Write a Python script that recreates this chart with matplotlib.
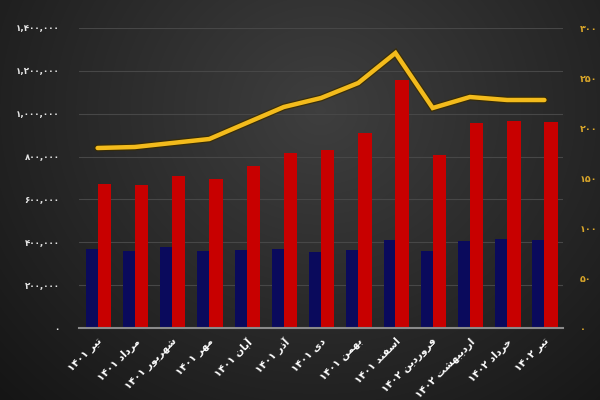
import numpy as np
import matplotlib
matplotlib.use("Agg")
import matplotlib.pyplot as plt
import matplotlib.patheffects as pe

months = ["تیر", "مرداد", "شهریور", "مهر", "آبان", "آذر", "دی", "بهمن",
          "اسفند", "فروردین", "اردیبهشت", "خرداد", "تیر"]
years = ["1401"] * 9 + ["1402"] * 4

blue_vals = [367000, 361000, 377000, 361000, 363000, 367000, 355000, 363000,
             412000, 360000, 406000, 415000, 412000]
red_vals = [673000, 667000, 710000, 695000, 758000, 819000, 831000, 910000,
            1157000, 807000, 955000, 967000, 960000]
line_vals = [180, 181, 185, 189, 205, 221, 230, 245, 275, 220, 231, 228, 228]

left_ticks = [0, 200000, 400000, 600000, 800000, 1000000, 1200000, 1400000]
right_ticks = [0, 50, 100, 150, 200, 250, 300]

FA_DIGITS = str.maketrans("0123456789", "۰۱۲۳۴۵۶۷۸۹")

# presentation forms: isolated, final, initial, medial (None = non-joining left)
FORMS = {
    "ا": ("\uFE8D", "\uFE8E", None, None),
    "آ": ("\uFE81", "\uFE82", None, None),
    "ب": ("\uFE8F", "\uFE90", "\uFE91", "\uFE92"),
    "ت": ("\uFE95", "\uFE96", "\uFE97", "\uFE98"),
    "خ": ("\uFEA5", "\uFEA6", "\uFEA7", "\uFEA8"),
    "د": ("\uFEA9", "\uFEAA", None, None),
    "ذ": ("\uFEAB", "\uFEAC", None, None),
    "ر": ("\uFEAD", "\uFEAE", None, None),
    "س": ("\uFEB1", "\uFEB2", "\uFEB3", "\uFEB4"),
    "ش": ("\uFEB5", "\uFEB6", "\uFEB7", "\uFEB8"),
    "ف": ("\uFED1", "\uFED2", "\uFED3", "\uFED4"),
    "م": ("\uFEE1", "\uFEE2", "\uFEE3", "\uFEE4"),
    "ن": ("\uFEE5", "\uFEE6", "\uFEE7", "\uFEE8"),
    "ه": ("\uFEE9", "\uFEEA", "\uFEEB", "\uFEEC"),
    "و": ("\uFEED", "\uFEEE", None, None),
    "ی": ("\uFBFC", "\uFBFD", "\uFBFE", "\uFBFF"),
}


def shape(word):
    out = []
    n = len(word)
    for i, ch in enumerate(word):
        f = FORMS.get(ch)
        if f is None:
            out.append(ch)
            continue
        prev = FORMS.get(word[i - 1]) if i > 0 else None
        join_prev = prev is not None and prev[2] is not None
        nxt = FORMS.get(word[i + 1]) if i < n - 1 else None
        join_next = nxt is not None and f[2] is not None
        if join_prev and join_next:
            out.append(f[3])
        elif join_prev:
            out.append(f[1])
        elif join_next:
            out.append(f[2])
        else:
            out.append(f[0])
    return "".join(reversed(out))


labels = [y.translate(FA_DIGITS) + " " + shape(m) for m, y in zip(months, years)]

fig = plt.figure(figsize=(6, 4), dpi=100)
# background gradient
bg = fig.add_axes([0, 0, 1, 1], zorder=-10)
yy, xx = np.mgrid[0:400, 0:600]
d = np.sqrt(((xx - 320) / 360.0) ** 2 + ((yy - 110) / 330.0) ** 2)
val = np.clip(0.245 - 0.13 * d, 0.085, 0.26)
bg.imshow(np.dstack([val, val, val]), aspect="auto", extent=[0, 1, 0, 1])
bg.axis("off")

ax = fig.add_axes([79 / 600, 72 / 400, 484 / 600, 300 / 400])
ax.patch.set_alpha(0)
x = np.arange(len(months))
ax.bar(x - 0.16, blue_vals, 0.32, color="#0a0a5c", zorder=2)
ax.bar(x + 0.18, red_vals, 0.36, color="#c80000", zorder=2)
ax.set_xlim(-0.5, len(months) - 0.5)
ax.set_ylim(0, 1400000)
ax.set_yticks(left_ticks)
ax.set_yticklabels([f"{v:,}".translate(FA_DIGITS) for v in left_ticks],
                   color="#e6e6e6", fontsize=6.3, fontweight="bold")
ax.tick_params(axis="y", length=0, pad=14)
ax.set_xticks(x)
ax.set_xticklabels(labels, rotation=45, ha="right", rotation_mode="anchor",
                   color="white", fontsize=7.4, fontweight="bold")
ax.tick_params(axis="x", length=0, pad=6)
ax.grid(axis="y", color="#474747", linewidth=0.8, zorder=0)
for s in ["top", "right", "left"]:
    ax.spines[s].set_visible(False)
ax.spines["bottom"].set_color("#8a8a8a")
ax.spines["bottom"].set_linewidth(1.5)

ax2 = ax.twinx()
ax2.patch.set_alpha(0)
ax2.plot(x, line_vals, color="#f3bb1c", linewidth=3.2, zorder=5,
         solid_capstyle="round", solid_joinstyle="miter",
         path_effects=[pe.Stroke(linewidth=5, foreground="#3a2c00", alpha=0.8),
                       pe.Normal()])
ax2.set_ylim(0, 300)
ax2.set_yticks(right_ticks)
ax2.set_yticklabels([str(v).translate(FA_DIGITS) for v in right_ticks],
                    color="#d9a62a", fontsize=6.8, fontweight="bold")
ax2.tick_params(axis="y", length=0, pad=12)
for s in ["top", "right", "left", "bottom"]:
    ax2.spines[s].set_visible(False)

fig.savefig("out.png", dpi=100)
